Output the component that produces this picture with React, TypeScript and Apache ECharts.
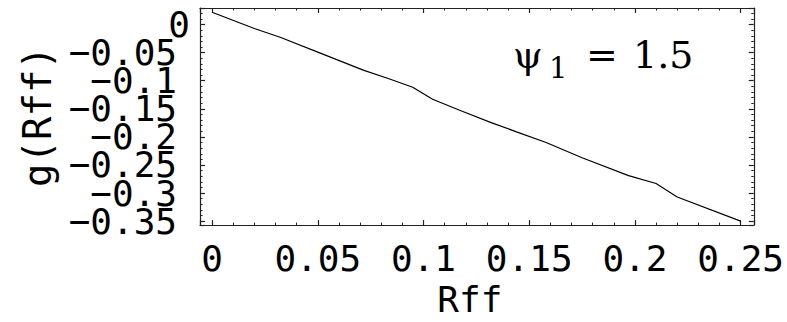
import React, { useEffect, useRef } from "react";
import * as echarts from "echarts";

const rff = [0, 0.02, 0.0325, 0.0512, 0.0715, 0.084, 0.0949, 0.1043, 0.1168, 0.1323, 0.144, 0.158, 0.175, 0.197, 0.21, 0.22, 0.25];
const gVals = [0.022, -0.0069, -0.0231, -0.0508, -0.081, -0.097, -0.1116, -0.133, -0.152, -0.175, -0.191, -0.21, -0.237, -0.269, -0.283, -0.307, -0.35];

const xRange = [-0.0057, 0.2562];
const yRange = [-0.357, 0.0295];

const xTitle = "Rff";
const yTitle = "g(Rff)";
const annotationParts = ["ψ", "1", "=", "1.5"];

const MONO = "'DejaVu Sans Mono', monospace";
const SERIF = "'DejaVu Serif', serif";
const FRAME = "#222";

function fmt(v: number): string {
  const s = parseFloat(v.toFixed(4)).toString();
  return s.replace("-", "\u2212");
}

export default function App() {
  const ref = useRef<HTMLDivElement>(null);
  useEffect(() => {
    document.body.style.margin = "0";
    const chart = echarts.init(ref.current!, null, { renderer: "svg" });
    const data = rff.map((x, i) => [x, gVals[i]]);
    const frameAxisCommon = {
      axisLine: { show: true, onZero: false, lineStyle: { color: FRAME, width: 1.2 } },
      axisTick: { show: true, inside: true, length: 5, lineStyle: { color: FRAME, width: 1.2 } },
      minorTick: { show: true, splitNumber: 5, length: 2.5, lineStyle: { color: FRAME } },
      splitLine: { show: false },
      minorSplitLine: { show: false },
    };
    const lbl = { fontFamily: MONO, fontSize: 36, color: "#000" };
    chart.setOption({
      animation: false,
      backgroundColor: "#fff",
      grid: { left: 200, top: 8, right: 27, bottom: 91, containLabel: false },
      xAxis: [
        {
          type: "value",
          min: xRange[0],
          max: xRange[1],
          splitNumber: 5,
          ...frameAxisCommon,
          axisLabel: {
            show: true,
            showMinLabel: false,
            showMaxLabel: false,
            margin: 15,
            ...lbl,
            formatter: (v: number) => fmt(v),
          },
          name: xTitle,
          nameLocation: "middle",
          nameGap: 49,
          nameTextStyle: { ...lbl, padding: [0, 14, 0, 0] },
        },
        {
          type: "value",
          position: "top",
          min: xRange[0],
          max: xRange[1],
          splitNumber: 5,
          ...frameAxisCommon,
          axisLabel: { show: false },
        },
      ],
      yAxis: [
        {
          type: "value",
          min: yRange[0],
          max: yRange[1],
          splitNumber: 8,
          ...frameAxisCommon,
          axisLabel: {
            show: true,
            showMinLabel: false,
            showMaxLabel: false,
            margin: 10,
            ...lbl,
            formatter: (v: number) => (Math.abs(v) < 1e-9 ? "{n|0}" : "{n|" + fmt(v) + "}{z| }"),
            rich: {
              n: { ...lbl },
              z: { ...lbl, width: 13 },
            },
          },
          name: yTitle,
          nameLocation: "middle",
          nameGap: 143,
          nameTextStyle: { fontFamily: MONO, fontSize: 39, color: "#000" },
        },
        {
          type: "value",
          position: "right",
          min: yRange[0],
          max: yRange[1],
          splitNumber: 8,
          ...frameAxisCommon,
          axisLabel: { show: false },
        },
      ],
      graphic: [
        {
          type: "text",
          left: 513,
          top: 36,
          style: {
            text:
              "{p|" + annotationParts[0] + "}{s|" + annotationParts[1] + "}{e|" + annotationParts[2] + "}{n|" + annotationParts[3] + "}",
            rich: {
              p: { fontFamily: SERIF, fontSize: 38, fill: "#000", width: 36 },
              s: { fontFamily: SERIF, fontSize: 29, fill: "#000", width: 37, padding: [26, 0, 0, 0] },
              e: { fontFamily: SERIF, fontSize: 38, fill: "#000", width: 47 },
              n: { fontFamily: SERIF, fontSize: 38, fill: "#000" },
            },
          },
        },
      ],
      series: [
        {
          type: "line",
          data,
          xAxisIndex: 0,
          yAxisIndex: 0,
          showSymbol: false,
          symbol: "none",
          lineStyle: { color: "#000", width: 1.2 },
          clip: true,
        },
      ],
    });
    return () => chart.dispose();
  }, []);
  return <div ref={ref} style={{ width: 787, height: 322, position: "absolute", left: 0, top: 0 }} />;
}
